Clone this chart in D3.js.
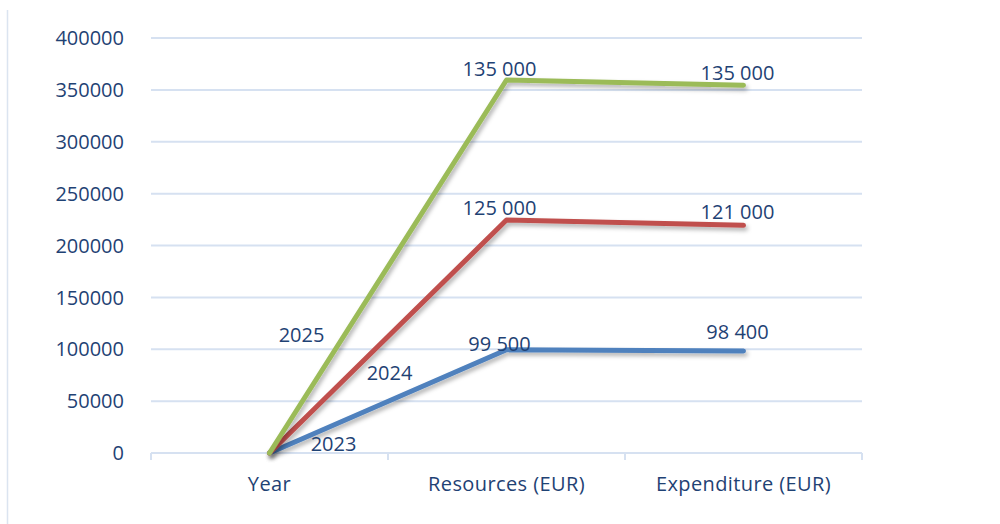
<!DOCTYPE html>
<html>
<head>
<meta charset="utf-8">
<script src="https://cdn.jsdelivr.net/npm/d3@7"></script>
<style>
  body { margin: 0; background: #fff; }
  text { font-family: "Open Sans", sans-serif; fill: #1f4274; }
</style>
</head>
<body>
<svg id="chart" width="1000" height="524"></svg>
<script>
// categories along x
var categories = ["Year", "Resources (EUR)", "Expenditure (EUR)"];
// series (stacked line chart, values per category)
var seriesNames = ["2023", "2024", "2025"];
var values2023 = [0, 99500, 98400];
var values2024 = [0, 125000, 121000];
var values2025 = [0, 135000, 135000];
var yTicks = [0, 50000, 100000, 150000, 200000, 250000, 300000, 350000, 400000];
var colors = ["#4f81bd", "#c0504d", "#9bbb59"];

// label nudges (pixels) for the series-name labels at the first point
var nameOffsets = [[64, -2], [120, -73], [32, -111]];
var valueOffsets = [[[0, 0], [-7, 1], [-6, -12]], [[0, 0], [-7, -5], [-6, -6]], [[0, 0], [-7, -4], [-6, -5]]];

var margin = {top: 38, right: 138, bottom: 71, left: 151},
    width = 1000 - margin.left - margin.right,
    height = 524 - margin.top - margin.bottom;

var svg = d3.select("#chart");

// outer chart border (only left edge visible)
svg.append("line")
    .attr("x1", 7.5).attr("x2", 7.5)
    .attr("y1", 10).attr("y2", 524)
    .attr("stroke", "#dbe4f0").attr("stroke-width", 1.5);

var defs = svg.append("defs");
var f = defs.append("filter").attr("id", "shadow")
    .attr("x", "-10%").attr("y", "-10%").attr("width", "130%").attr("height", "140%");
f.append("feDropShadow")
    .attr("dx", 2).attr("dy", 3).attr("stdDeviation", 2)
    .attr("flood-color", "#000").attr("flood-opacity", 0.3);

var g = svg.append("g")
    .attr("transform", "translate(" + margin.left + "," + margin.top + ")");

var x = d3.scaleBand()
    .domain(categories)
    .range([0, width]);

var y = d3.scaleLinear()
    .domain([0, 400000])
    .range([height, 0]);

// gridlines
g.selectAll(".grid")
    .data(yTicks)
    .enter().append("line")
    .attr("class", "grid")
    .attr("x1", 0).attr("x2", width)
    .attr("y1", function(d) { return y(d); })
    .attr("y2", function(d) { return y(d); })
    .attr("stroke", "#d6e1f1")
    .attr("stroke-width", 2);

// y labels
g.selectAll(".ylab")
    .data(yTicks)
    .enter().append("text")
    .attr("class", "ylab")
    .attr("x", -27)
    .attr("y", function(d) { return y(d); })
    .attr("dy", "0.36em")
    .attr("text-anchor", "end")
    .style("font-size", "20px")
    .text(function(d) { return d; });

// x axis ticks
var xTickPos = [0].concat(categories.map(function(c) { return x(c) + x.bandwidth(); }));
g.selectAll(".xtick")
    .data(xTickPos)
    .enter().append("line")
    .attr("x1", function(d) { return d; })
    .attr("x2", function(d) { return d; })
    .attr("y1", height).attr("y2", height + 7)
    .attr("stroke", "#d6e1f1")
    .attr("stroke-width", 2);

g.selectAll(".xlab")
    .data(categories)
    .enter().append("text")
    .attr("x", function(d) { return x(d) + x.bandwidth() / 2; })
    .attr("y", height + 38)
    .attr("text-anchor", "middle")
    .style("font-size", "20px")
    .style("letter-spacing", "0.4px")
    .text(function(d) { return d; });

// stack
var raw = [values2023, values2024, values2025];
var stacked = [];
var run = categories.map(function() { return 0; });
raw.forEach(function(vals, si) {
    var pts = vals.map(function(v, i) {
        run[i] += v;
        return {cat: categories[i], value: v, total: run[i]};
    });
    stacked.push(pts);
});

var line = d3.line()
    .x(function(d) { return x(d.cat) + x.bandwidth() / 2; })
    .y(function(d) { return y(d.total); });

g.selectAll(".series")
    .data(stacked)
    .enter().append("path")
    .attr("class", "series")
    .attr("d", line)
    .attr("fill", "none")
    .attr("stroke", function(d, i) { return colors[i]; })
    .attr("stroke-width", 5)
    .attr("stroke-linecap", "round")
    .attr("stroke-linejoin", "round")
    .attr("filter", "url(#shadow)");

// labels
stacked.forEach(function(pts, si) {
    pts.forEach(function(p, i) {
        var px = x(p.cat) + x.bandwidth() / 2;
        var py = y(p.total);
        var txt, dx, dy;
        if (i === 0) {
            txt = seriesNames[si];
            dx = nameOffsets[si][0];
            dy = nameOffsets[si][1];
        } else {
            txt = d3.format(",")(p.value).replace(/,/g, " ");
            dx = valueOffsets[si][i][0];
            dy = valueOffsets[si][i][1];
        }
        g.append("text")
            .attr("x", px + dx)
            .attr("y", py + dy)
            .attr("text-anchor", "middle")
            .style("font-size", "20px")
            .text(txt);
    });
});
</script>
</body>
</html>
